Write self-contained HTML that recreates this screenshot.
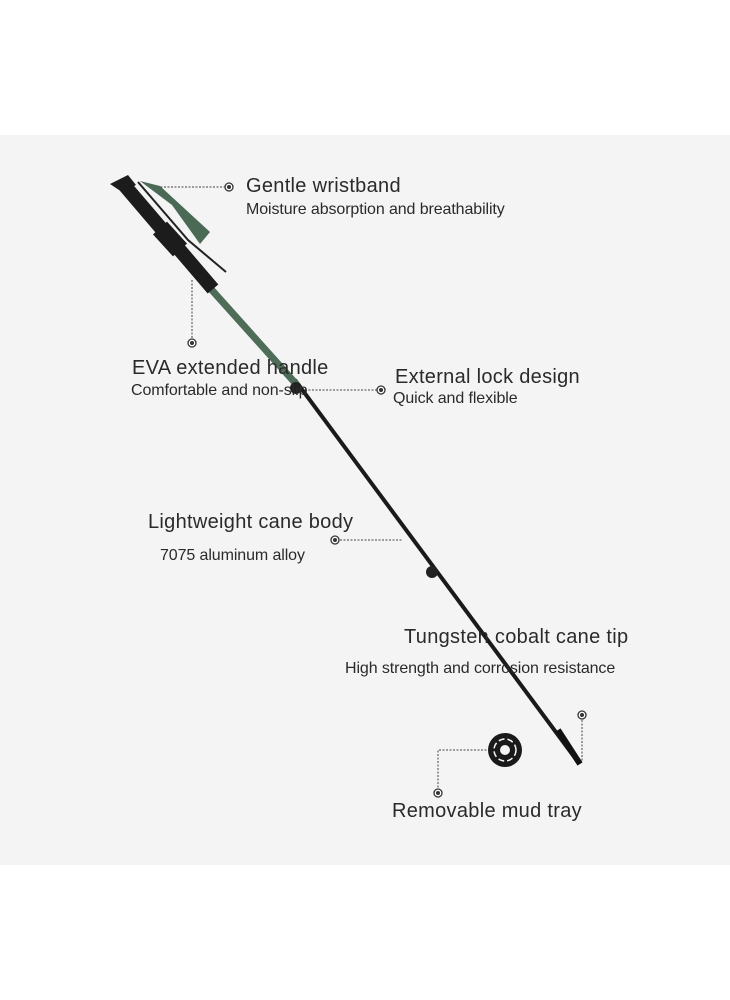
<!DOCTYPE html>
<html><head><style>
html,body{margin:0;padding:0;background:#fff;}
.wrap{position:relative;width:730px;height:1000px;overflow:hidden;background:#fff;}
.t{position:absolute;font-family:"Liberation Sans",sans-serif;color:#2a2a2a;white-space:nowrap;}
.h{font-size:20px;letter-spacing:0.3px;}
.s{font-size:16px;letter-spacing:-0.1px;}
</style></head><body><div class="wrap">
<div style="position:absolute;left:0;top:135px;width:730px;height:730px;background:#f4f4f4"></div>
<svg width="730" height="1000" style="position:absolute;left:0;top:0">
<g stroke="#444" stroke-width="1" stroke-dasharray="2,1.5" fill="none">
<line x1="150" y1="187" x2="225" y2="187"/>
<line x1="192" y1="280" x2="192" y2="340"/>
<line x1="305" y1="390" x2="378" y2="390"/>
<line x1="340" y1="540" x2="403" y2="540"/>
<line x1="582" y1="720" x2="582" y2="762"/>
<polyline points="490,750 438,750 438,790"/>
</g>
<g fill="#fff" stroke="#333" stroke-width="1.3">
<circle cx="229" cy="187" r="4"/><circle cx="192" cy="343" r="4"/><circle cx="381" cy="390" r="4"/>
<circle cx="335" cy="540" r="4"/><circle cx="582" cy="715" r="4"/><circle cx="438" cy="793" r="4"/>
</g>
<g fill="#333"><circle cx="229" cy="187" r="2"/><circle cx="192" cy="343" r="2"/><circle cx="381" cy="390" r="2"/>
<circle cx="335" cy="540" r="2"/><circle cx="582" cy="715" r="2"/><circle cx="438" cy="793" r="2"/></g>
<!-- strap -->
<path d="M140 181 L160 186 L210 232 L200 244 L172 205 Z" fill="#4a6a55"/>
<path d="M138 182 L188 240 L226 272" stroke="#222" stroke-width="2" fill="none"/>
<!-- pole lower -->
<line x1="295" y1="380" x2="578" y2="762" stroke="#1a1a1a" stroke-width="4"/>
<!-- green section -->
<line x1="210" y1="288" x2="297" y2="385" stroke="#4e6d58" stroke-width="7"/>
<!-- grip -->
<line x1="125" y1="186" x2="213" y2="289" stroke="#1c1c1c" stroke-width="14"/>
<line x1="160" y1="228" x2="180" y2="250" stroke="#1c1c1c" stroke-width="19"/>
<path d="M110 184 L128 175 L136 185 L122 192 Z" fill="#1c1c1c"/>
<circle cx="296" cy="388" r="6" fill="#222"/>
<circle cx="432" cy="572" r="6" fill="#222"/>
<line x1="558" y1="730" x2="580" y2="764" stroke="#111" stroke-width="6"/>
<circle cx="505" cy="750" r="17" fill="#1a1a1a"/>
<circle cx="505" cy="750" r="11" fill="none" stroke="#f4f4f4" stroke-width="1.5" stroke-dasharray="6,3"/>
<circle cx="505" cy="750" r="5" fill="#f4f4f4"/>
</svg>
<div class="t h" style="left:246px;top:175px">Gentle wristband</div>
<div class="t s" style="left:246px;top:201px">Moisture absorption and breathability</div>
<div class="t h" style="left:132px;top:357px">EVA extended handle</div>
<div class="t s" style="left:131px;top:382px">Comfortable and non-slip</div>
<div class="t h" style="left:395px;top:366px">External lock design</div>
<div class="t s" style="left:393px;top:390px">Quick and flexible</div>
<div class="t h" style="left:148px;top:511px">Lightweight cane body</div>
<div class="t s" style="left:160px;top:547px">7075 aluminum alloy</div>
<div class="t h" style="left:404px;top:626px">Tungsten cobalt cane tip</div>
<div class="t s" style="left:345px;top:660px">High strength and corrosion resistance</div>
<div class="t h" style="left:392px;top:800px">Removable mud tray</div>
</div></body></html>
